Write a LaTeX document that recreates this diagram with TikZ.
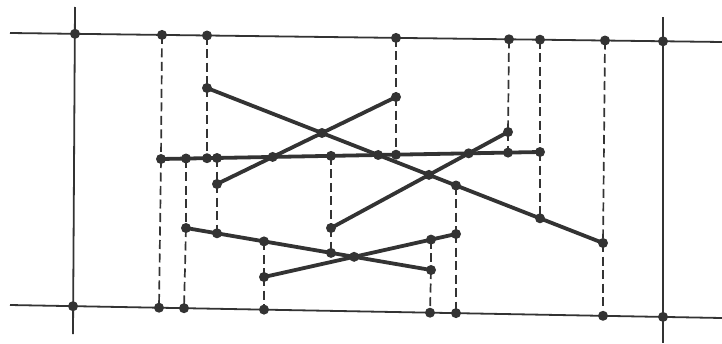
\documentclass[tikz,border=0pt]{standalone}
\usetikzlibrary{intersections}

\definecolor{tinta}{HTML}{333333}
\tikzset{
  marco/.style={tinta, line width=1.8pt},
  segmento/.style={tinta, line width=3.8pt, line cap=round},
  extension/.style={tinta, line width=1.7pt, dash pattern=on 9pt off 4.5pt}
}

\begin{document}
\begin{tikzpicture}[x=1pt, y=-1pt] % un punto por pixel de la figura

    \useasboundingbox (0,0) rectangle (722,343);

    % 1. Marco: dos horizontales y dos verticales
    \coordinate (ts) at (10,33);   \coordinate (te) at (722,42);
    \coordinate (bs) at (10,305);  \coordinate (be) at (722,318);
    \coordinate (ls) at (75,7);    \coordinate (le) at (73,334);
    \coordinate (rs) at (663,17);  \coordinate (re) at (663,343);
    \draw[marco] (ts) -- (te);
    \draw[marco] (bs) -- (be);
    \draw[marco] (ls) -- (le);
    \draw[marco] (rs) -- (re);

    % esquinas del marco
    \coordinate (k1) at (75,33.8);  \coordinate (k2) at (663,41.3);
    \coordinate (k3) at (73,306.2); \coordinate (k4) at (663,316.9);

    % puntos donde las extensiones tocan el marco
    \coordinate (t1) at (162,34.9); \coordinate (t2) at (207,35.5);
    \coordinate (t3) at (396,37.9); \coordinate (t4) at (509,39.3);
    \coordinate (t5) at (540,39.7); \coordinate (t6) at (605,40.5);
    \coordinate (u1) at (159,307.7); \coordinate (u2) at (184,308.2);
    \coordinate (u3) at (264,309.6); \coordinate (u4) at (430,312.7);
    \coordinate (u5) at (456,313.1); \coordinate (u6) at (603,315.8);

    % 2. Extremos de los segmentos
    \coordinate (a1) at (207,88);  \coordinate (a2) at (603,243);
    \coordinate (b1) at (217,184); \coordinate (b2) at (396,97);
    \coordinate (h1) at (161,159); \coordinate (h2) at (540,152);
    \coordinate (c1) at (331,228); \coordinate (c2) at (508,132);
    \coordinate (d1) at (186,228); \coordinate (d2) at (431,270);
    \coordinate (e1) at (264,277); \coordinate (e2) at (456,234);

    % puntos donde las extensiones tocan un segmento
    \coordinate (hD) at (186,158.5); \coordinate (hA) at (207,158.2);
    \coordinate (hB) at (217,158.0); \coordinate (hC) at (331,155.9);
    \coordinate (hE) at (396,154.7); \coordinate (hF) at (508,152.6);
    \coordinate (aE) at (456,185.5); \coordinate (aH) at (540,218.3);
    \coordinate (dB) at (217,233.3); \coordinate (dE) at (264,241.4);
    \coordinate (dC) at (331,252.9); \coordinate (eD) at (431,239.6);

    % 3. Extensiones verticales (punteadas)
    \foreach \p/\q in {t1/h1, h1/u1, t2/a1, a1/hA, hB/b1, b1/dB,
                       hD/d1, d1/u2, dE/e1, e1/u3, hC/c1, c1/dC,
                       t3/b2, b2/hE, eD/d2, d2/u4, aE/e2, e2/u5,
                       t4/c2, c2/hF, t5/h2, h2/aH, t6/a2, a2/u6} {
        \draw[extension] (\p) -- (\q);
    }

    % 4. Segmentos
    \draw[segmento, name path=sa] (a1) -- (a2);
    \draw[segmento, name path=sb] (b1) -- (b2);
    \draw[segmento, name path=sh] (h1) -- (h2);
    \draw[segmento, name path=sc] (c1) -- (c2);
    \draw[segmento, name path=sd] (d1) -- (d2);
    \draw[segmento, name path=se] (e1) -- (e2);

    % cruces entre segmentos
    \path[name intersections={of=sa and sb, by=xab}];
    \path[name intersections={of=sa and sh, by=xah}];
    \path[name intersections={of=sb and sh, by=xbh}];
    \path[name intersections={of=sc and sh, by=xch}];
    \path[name intersections={of=sc and sa, by=xca}];
    \path[name intersections={of=sd and se, by=xde}];

    % 5. Todos los puntos
    \foreach \p in {k1,k2,k3,k4, t1,t2,t3,t4,t5,t6, u1,u2,u3,u4,u5,u6,
                    a1,a2,b1,b2,h1,h2,c1,c2,d1,d2,e1,e2,
                    hD,hA,hB,hC,hE,hF,aE,aH,dB,dE,dC,eD,
                    xab,xah,xbh,xch,xca,xde} {
        \fill[tinta] (\p) circle (5pt);
    }

\end{tikzpicture}
\end{document}
